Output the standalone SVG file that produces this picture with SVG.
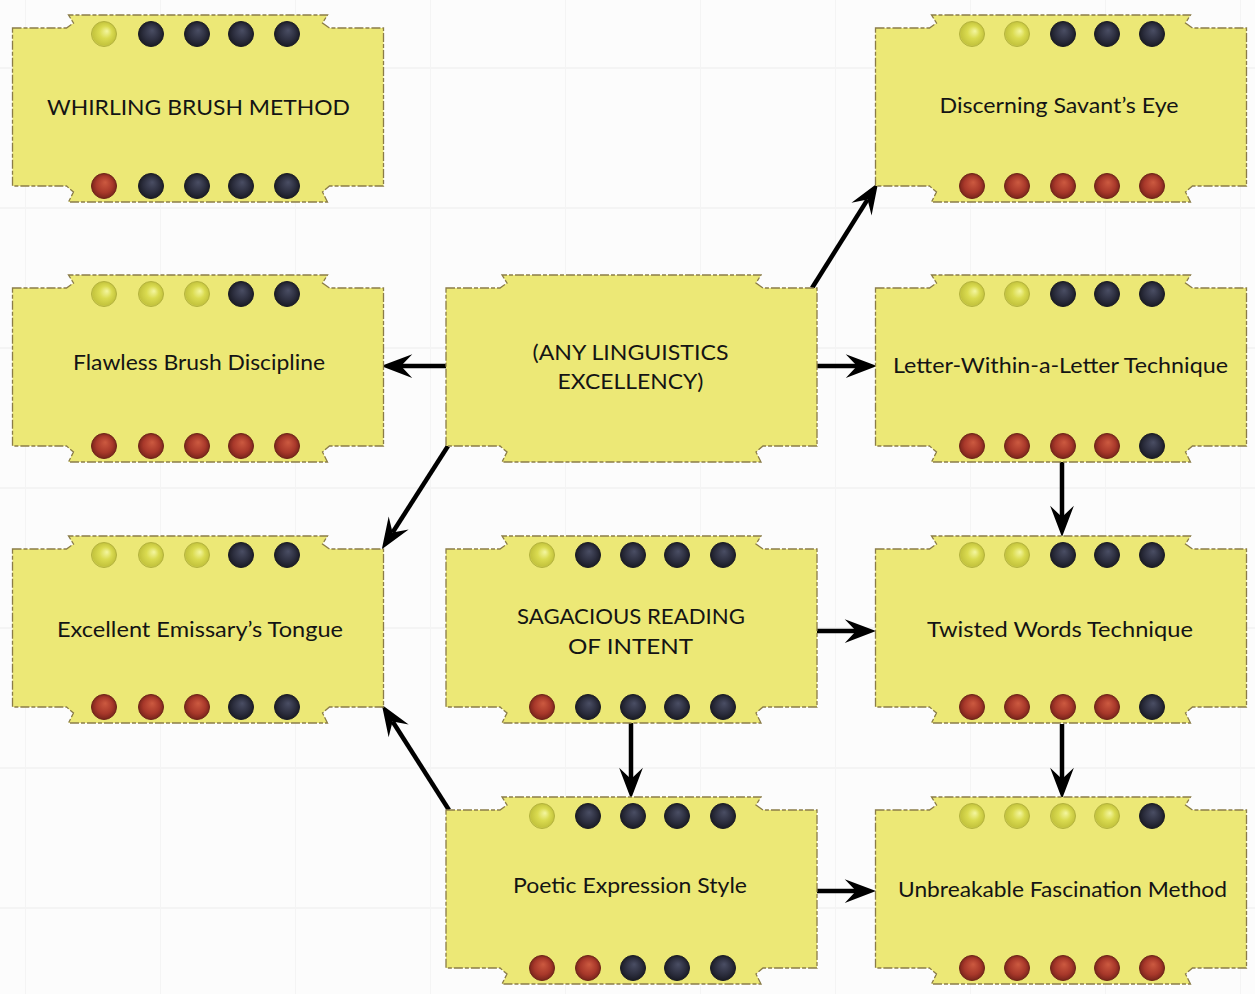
<svg xmlns="http://www.w3.org/2000/svg" xmlns:xlink="http://www.w3.org/1999/xlink" width="1255" height="994" viewBox="0 0 1255 994">
<style>
.node-shape{fill:#ece876;stroke:#8a7c48;stroke-width:1.3;stroke-dasharray:9 2 4 2}
.lbl{font-family:"Lato","Open Sans","Liberation Sans",sans-serif;font-size:22px;fill:#141414;text-anchor:middle}
.conn{stroke:#000;stroke-width:4.5;fill:none;marker-end:url(#arr)}
.y{fill:url(#gy);stroke:#b3b23c;stroke-width:1}
.d{fill:url(#gd);stroke:#1a1b24;stroke-width:1}
.r{fill:url(#gr);stroke:#6e2418;stroke-width:1}
</style>
<defs>
<pattern id="grid" width="135" height="140" patternUnits="userSpaceOnUse" x="25" y="0">
<path d="M0,0 V140 M0,68 H135" stroke="#f4f4f4" stroke-width="2" fill="none"/>
</pattern>
<radialGradient id="gy" cx="0.5" cy="0.5" r="0.55" fx="0.62" fy="0.38">
<stop offset="0" stop-color="#f4f6a0"/>
<stop offset="0.45" stop-color="#dadb50"/>
<stop offset="0.85" stop-color="#c4c43e"/>
<stop offset="1" stop-color="#e4e47e"/>
</radialGradient>
<radialGradient id="gd" cx="0.5" cy="0.5" r="0.55" fx="0.55" fy="0.35">
<stop offset="0" stop-color="#4a4e64"/>
<stop offset="0.6" stop-color="#2c2e3e"/>
<stop offset="1" stop-color="#16171f"/>
</radialGradient>
<radialGradient id="gr" cx="0.5" cy="0.5" r="0.55" fx="0.55" fy="0.35">
<stop offset="0" stop-color="#cc5a40"/>
<stop offset="0.6" stop-color="#a8382a"/>
<stop offset="1" stop-color="#6e2018"/>
</radialGradient>
<path id="shape" class="node-shape" d="M0,0 H54 L61,-5 L56,-13 H315 L310,-5 L317,0 H371 V158 H317 L310,164 L315,174 H56 L61,164 L54,158 H0 Z"/>
<marker id="arr" markerUnits="userSpaceOnUse" orient="auto" refX="0" refY="0" markerWidth="40" markerHeight="40" viewBox="-12 -12 32 24" overflow="visible">
<path d="M16,0 L-9,-9.5 L0,0 L-9,9.5 Z" fill="#000"/>
</marker>
</defs>
<rect width="1255" height="994" fill="#fcfcfc"/>
<rect width="1255" height="994" fill="url(#grid)"/>

<g id="connectors">
<line class="conn" x1="812" y1="288" x2="867.5" y2="199.6"/>
<line class="conn" x1="446" y1="366" x2="401" y2="366"/>
<line class="conn" x1="817" y1="366" x2="857" y2="366"/>
<line class="conn" x1="448" y1="446" x2="392.6" y2="532.5"/>
<line class="conn" x1="1062" y1="462" x2="1062" y2="517"/>
<line class="conn" x1="817" y1="631" x2="856" y2="631"/>
<line class="conn" x1="631" y1="723" x2="631" y2="779"/>
<line class="conn" x1="449" y1="810" x2="392.6" y2="721.5"/>
<line class="conn" x1="1062" y1="724" x2="1062" y2="779"/>
<line class="conn" x1="817" y1="891" x2="856" y2="891"/>
</g>

<g id="whirling-brush-method">
<use href="#shape" x="12.5" y="28"/>
<circle class="y" cx="104" cy="34" r="12.5"/><circle class="d" cx="151" cy="34" r="12.5"/><circle class="d" cx="197" cy="34" r="12.5"/><circle class="d" cx="241" cy="34" r="12.5"/><circle class="d" cx="287" cy="34" r="12.5"/>
<circle class="r" cx="104" cy="186" r="12.5"/><circle class="d" cx="151" cy="186" r="12.5"/><circle class="d" cx="197" cy="186" r="12.5"/><circle class="d" cx="241" cy="186" r="12.5"/><circle class="d" cx="287" cy="186" r="12.5"/>
<text class="lbl" x="198.5" y="115" textLength="303" lengthAdjust="spacingAndGlyphs">WHIRLING BRUSH METHOD</text>
</g>

<g id="discerning-savants-eye">
<use href="#shape" x="875.5" y="28"/>
<circle class="y" cx="972" cy="34" r="12.5"/><circle class="y" cx="1017" cy="34" r="12.5"/><circle class="d" cx="1063" cy="34" r="12.5"/><circle class="d" cx="1107" cy="34" r="12.5"/><circle class="d" cx="1152" cy="34" r="12.5"/>
<circle class="r" cx="972" cy="186" r="12.5"/><circle class="r" cx="1017" cy="186" r="12.5"/><circle class="r" cx="1063" cy="186" r="12.5"/><circle class="r" cx="1107" cy="186" r="12.5"/><circle class="r" cx="1152" cy="186" r="12.5"/>
<text class="lbl" x="1059" y="113" textLength="239" lengthAdjust="spacingAndGlyphs">Discerning Savant’s Eye</text>
</g>

<g id="flawless-brush-discipline">
<use href="#shape" x="12.5" y="288"/>
<circle class="y" cx="104" cy="294" r="12.5"/><circle class="y" cx="151" cy="294" r="12.5"/><circle class="y" cx="197" cy="294" r="12.5"/><circle class="d" cx="241" cy="294" r="12.5"/><circle class="d" cx="287" cy="294" r="12.5"/>
<circle class="r" cx="104" cy="446" r="12.5"/><circle class="r" cx="151" cy="446" r="12.5"/><circle class="r" cx="197" cy="446" r="12.5"/><circle class="r" cx="241" cy="446" r="12.5"/><circle class="r" cx="287" cy="446" r="12.5"/>
<text class="lbl" x="199" y="370" textLength="252" lengthAdjust="spacingAndGlyphs">Flawless Brush Discipline</text>
</g>

<g id="any-linguistics-excellency">
<use href="#shape" x="446" y="288"/>
<text class="lbl" x="630.5" y="360" textLength="196" lengthAdjust="spacingAndGlyphs">(ANY LINGUISTICS</text>
<text class="lbl" x="630.5" y="389" textLength="146" lengthAdjust="spacingAndGlyphs">EXCELLENCY)</text>
</g>

<g id="letter-within-a-letter-technique">
<use href="#shape" x="875.5" y="288"/>
<circle class="y" cx="972" cy="294" r="12.5"/><circle class="y" cx="1017" cy="294" r="12.5"/><circle class="d" cx="1063" cy="294" r="12.5"/><circle class="d" cx="1107" cy="294" r="12.5"/><circle class="d" cx="1152" cy="294" r="12.5"/>
<circle class="r" cx="972" cy="446" r="12.5"/><circle class="r" cx="1017" cy="446" r="12.5"/><circle class="r" cx="1063" cy="446" r="12.5"/><circle class="r" cx="1107" cy="446" r="12.5"/><circle class="d" cx="1152" cy="446" r="12.5"/>
<text class="lbl" x="1060.5" y="373" textLength="335" lengthAdjust="spacingAndGlyphs">Letter-Within-a-Letter Technique</text>
</g>

<g id="excellent-emissarys-tongue">
<use href="#shape" x="12.5" y="549"/>
<circle class="y" cx="104" cy="555" r="12.5"/><circle class="y" cx="151" cy="555" r="12.5"/><circle class="y" cx="197" cy="555" r="12.5"/><circle class="d" cx="241" cy="555" r="12.5"/><circle class="d" cx="287" cy="555" r="12.5"/>
<circle class="r" cx="104" cy="707" r="12.5"/><circle class="r" cx="151" cy="707" r="12.5"/><circle class="r" cx="197" cy="707" r="12.5"/><circle class="d" cx="241" cy="707" r="12.5"/><circle class="d" cx="287" cy="707" r="12.5"/>
<text class="lbl" x="200" y="637" textLength="286" lengthAdjust="spacingAndGlyphs">Excellent Emissary’s Tongue</text>
</g>

<g id="sagacious-reading-of-intent">
<use href="#shape" x="446" y="549"/>
<circle class="y" cx="542" cy="555" r="12.5"/><circle class="d" cx="588" cy="555" r="12.5"/><circle class="d" cx="633" cy="555" r="12.5"/><circle class="d" cx="677" cy="555" r="12.5"/><circle class="d" cx="723" cy="555" r="12.5"/>
<circle class="r" cx="542" cy="707" r="12.5"/><circle class="d" cx="588" cy="707" r="12.5"/><circle class="d" cx="633" cy="707" r="12.5"/><circle class="d" cx="677" cy="707" r="12.5"/><circle class="d" cx="723" cy="707" r="12.5"/>
<text class="lbl" x="631" y="624" textLength="228" lengthAdjust="spacingAndGlyphs">SAGACIOUS READING</text>
<text class="lbl" x="630.5" y="654" textLength="125" lengthAdjust="spacingAndGlyphs">OF INTENT</text>
</g>

<g id="twisted-words-technique">
<use href="#shape" x="875.5" y="549"/>
<circle class="y" cx="972" cy="555" r="12.5"/><circle class="y" cx="1017" cy="555" r="12.5"/><circle class="d" cx="1063" cy="555" r="12.5"/><circle class="d" cx="1107" cy="555" r="12.5"/><circle class="d" cx="1152" cy="555" r="12.5"/>
<circle class="r" cx="972" cy="707" r="12.5"/><circle class="r" cx="1017" cy="707" r="12.5"/><circle class="r" cx="1063" cy="707" r="12.5"/><circle class="r" cx="1107" cy="707" r="12.5"/><circle class="d" cx="1152" cy="707" r="12.5"/>
<text class="lbl" x="1060" y="637" textLength="266" lengthAdjust="spacingAndGlyphs">Twisted Words Technique</text>
</g>

<g id="poetic-expression-style">
<use href="#shape" x="446" y="810"/>
<circle class="y" cx="542" cy="816" r="12.5"/><circle class="d" cx="588" cy="816" r="12.5"/><circle class="d" cx="633" cy="816" r="12.5"/><circle class="d" cx="677" cy="816" r="12.5"/><circle class="d" cx="723" cy="816" r="12.5"/>
<circle class="r" cx="542" cy="968" r="12.5"/><circle class="r" cx="588" cy="968" r="12.5"/><circle class="d" cx="633" cy="968" r="12.5"/><circle class="d" cx="677" cy="968" r="12.5"/><circle class="d" cx="723" cy="968" r="12.5"/>
<text class="lbl" x="630" y="893" textLength="234" lengthAdjust="spacingAndGlyphs">Poetic Expression Style</text>
</g>

<g id="unbreakable-fascination-method">
<use href="#shape" x="875.5" y="810"/>
<circle class="y" cx="972" cy="816" r="12.5"/><circle class="y" cx="1017" cy="816" r="12.5"/><circle class="y" cx="1063" cy="816" r="12.5"/><circle class="y" cx="1107" cy="816" r="12.5"/><circle class="d" cx="1152" cy="816" r="12.5"/>
<circle class="r" cx="972" cy="968" r="12.5"/><circle class="r" cx="1017" cy="968" r="12.5"/><circle class="r" cx="1063" cy="968" r="12.5"/><circle class="r" cx="1107" cy="968" r="12.5"/><circle class="r" cx="1152" cy="968" r="12.5"/>
<text class="lbl" x="1062.5" y="897" textLength="329" lengthAdjust="spacingAndGlyphs">Unbreakable Fascination Method</text>
</g>
</svg>
